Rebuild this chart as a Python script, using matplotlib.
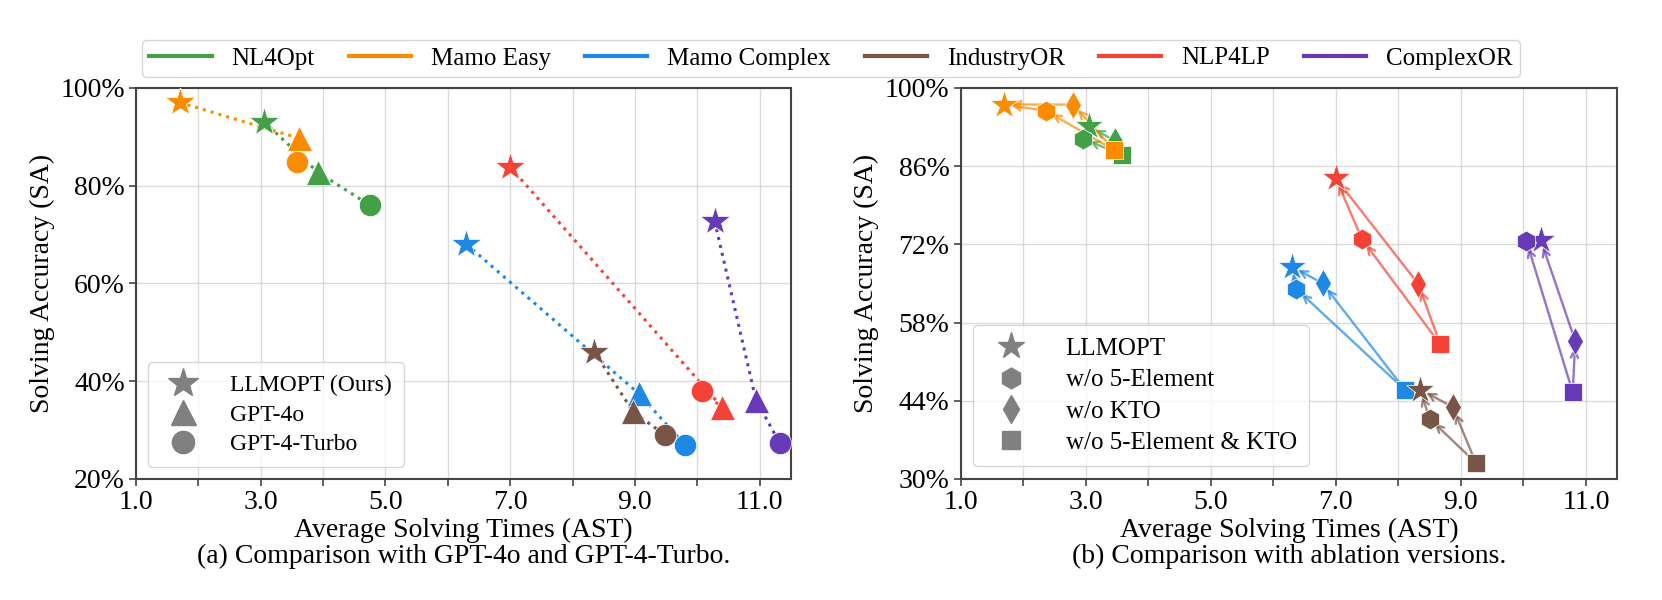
import matplotlib
matplotlib.use("Agg")
import matplotlib.pyplot as plt
from matplotlib.lines import Line2D
from matplotlib.ticker import FuncFormatter

plt.rcParams["font.family"] = ["Liberation Serif", "DejaVu Serif"]

datasets = ["NL4Opt", "Mamo Easy", "Mamo Complex", "IndustryOR", "NLP4LP", "ComplexOR"]
colors = ["#43A047", "#FB8C00", "#1E88E5", "#795548", "#F44336", "#673AB7"]

# (a) LLMOPT vs GPT-4o vs GPT-4-Turbo: AST (x) and SA in % (y)
llmopt_ast = [3.05, 1.70, 6.30, 8.35, 7.00, 10.28]
llmopt_sa = [93.1, 97.0, 68.0, 46.0, 83.8, 72.7]
gpt4o_ast = [3.92, 3.61, 9.06, 8.97, 10.39, 10.94]
gpt4o_sa = [82.7, 89.7, 37.5, 33.8, 34.8, 36.2]
turbo_ast = [4.75, 3.58, 9.81, 9.48, 10.07, 11.32]
turbo_sa = [76.0, 84.9, 26.9, 29.0, 37.9, 27.4]

# (b) ablation versions
no5e_ast = [2.96, 2.36, 6.37, 8.50, 7.42, 10.05]
no5e_sa = [90.9, 95.9, 64.0, 40.8, 72.9, 72.6]
nokto_ast = [3.47, 2.80, 6.79, 8.87, 8.32, 10.83]
nokto_sa = [90.5, 97.0, 65.0, 42.9, 64.9, 54.7]
noboth_ast = [3.58, 3.45, 8.11, 9.24, 8.67, 10.79]
noboth_sa = [88.0, 88.9, 45.9, 32.9, 54.1, 45.5]

x_major = [1, 3, 5, 7, 9, 11]
x_minor = [2, 4, 6, 8, 10]

fig = plt.figure(figsize=(16.62, 6.0), dpi=100)
ax1 = fig.add_axes([0.0818, 0.2017, 0.394, 0.652])
ax2 = fig.add_axes([0.578, 0.2017, 0.395, 0.652])

pct = FuncFormatter(lambda v, p: f"{v:.0f}%")

# ---- panel (a)
for i, c in enumerate(colors):
    xs = [llmopt_ast[i], gpt4o_ast[i], turbo_ast[i]]
    ys = [llmopt_sa[i], gpt4o_sa[i], turbo_sa[i]]
    ax1.plot(xs, ys, linestyle=":", color=c, lw=2.2, zorder=2)
    ax1.plot(llmopt_ast[i], llmopt_sa[i], marker="*", ms=22, color=c, mec="white", mew=0.5, zorder=3)
    ax1.plot(gpt4o_ast[i], gpt4o_sa[i], marker="^", ms=18, color=c, mec="white", mew=0.5, zorder=3)
    ax1.plot(turbo_ast[i], turbo_sa[i], marker="o", ms=16, color=c, mec="white", mew=0.5, zorder=3)

ax1.set_ylim(20, 100)
ax1.set_yticks([20, 40, 60, 80, 100])

# ---- panel (b)
arrow_kw = dict(arrowstyle="->", lw=1.7, alpha=0.7, mutation_scale=13, shrinkA=5, shrinkB=5)
for i, c in enumerate(colors):
    star = (llmopt_ast[i], llmopt_sa[i])
    hexa = (no5e_ast[i], no5e_sa[i])
    dia = (nokto_ast[i], nokto_sa[i])
    sq = (noboth_ast[i], noboth_sa[i])
    for a, b in [(sq, hexa), (hexa, star), (sq, dia), (dia, star)]:
        ax2.annotate("", xy=b, xytext=a, arrowprops=dict(color=c, **arrow_kw), zorder=2)
    ax2.plot(*star, marker="*", ms=21, color=c, mec="white", mew=0.5, zorder=3)
    ax2.plot(*hexa, marker="h", ms=15, color=c, mec="white", mew=0.5, zorder=3)
    ax2.plot(*dia, marker="d", ms=14, color=c, mec="white", mew=0.5, zorder=3)
    ax2.plot(*sq, marker="s", ms=12.5, color=c, mec="white", mew=0.5, zorder=3)

ax2.set_ylim(30, 100)
ax2.set_yticks([30, 44, 58, 72, 86, 100])

for ax in (ax1, ax2):
    ax.set_xlim(1.0, 11.5)
    ax.set_xticks(x_major)
    ax.set_xticks(x_minor, minor=True)
    ax.xaxis.set_major_formatter(FuncFormatter(lambda v, p: f"{v:.1f}"))
    ax.yaxis.set_major_formatter(pct)
    ax.tick_params(labelsize=20, width=1.2, length=5, color="#444444", pad=3)
    ax.tick_params(which="minor", width=1.2, length=5, color="#444444")
    ax.grid(which="both", axis="x", color="#cccccc", alpha=0.7, lw=1)
    ax.grid(which="major", axis="y", color="#cccccc", alpha=0.7, lw=1)
    ax.set_axisbelow(True)
    for s in ax.spines.values():
        s.set_color("#444444")
        s.set_linewidth(1.5)
    ax.set_xlabel("Average Solving Times (AST)", fontsize=20, labelpad=2)
    ax.set_ylabel("Solving Accuracy (SA)", fontsize=20, labelpad=4)

gray = "#808080"
h1 = [
    Line2D([], [], ls="none", marker="*", ms=22, color=gray),
    Line2D([], [], ls="none", marker="^", ms=18, color=gray),
    Line2D([], [], ls="none", marker="o", ms=16, color=gray),
]
ax1.legend(h1, ["LLMOPT (Ours)", "GPT-4o", "GPT-4-Turbo"], loc="lower left",
           fontsize=17, handletextpad=1.0, borderpad=0.5, labelspacing=0.35)

h2 = [
    Line2D([], [], ls="none", marker="*", ms=20, color=gray),
    Line2D([], [], ls="none", marker="h", ms=15, color=gray),
    Line2D([], [], ls="none", marker="d", ms=14, color=gray),
    Line2D([], [], ls="none", marker="s", ms=12.5, color=gray),
]
ax2.legend(h2, ["LLMOPT", "w/o 5-Element", "w/o KTO", "w/o 5-Element & KTO"], loc="lower left",
           fontsize=18, handletextpad=1.2, borderpad=0.5, labelspacing=0.35)

top_handles = [Line2D([], [], color=c, lw=3) for c in colors]
fig.legend(top_handles, datasets, loc="upper center", bbox_to_anchor=(0.5, 0.955), ncol=6,
           fontsize=18, handlelength=2.5, columnspacing=1.35, borderpad=0.3, handletextpad=0.8)

fig.text(0.279, 0.072, "(a) Comparison with GPT-4o and GPT-4-Turbo.", ha="center", va="center", fontsize=20)
fig.text(0.7755, 0.072, "(b) Comparison with ablation versions.", ha="center", va="center", fontsize=20)

fig.savefig("out.png", dpi=100)
